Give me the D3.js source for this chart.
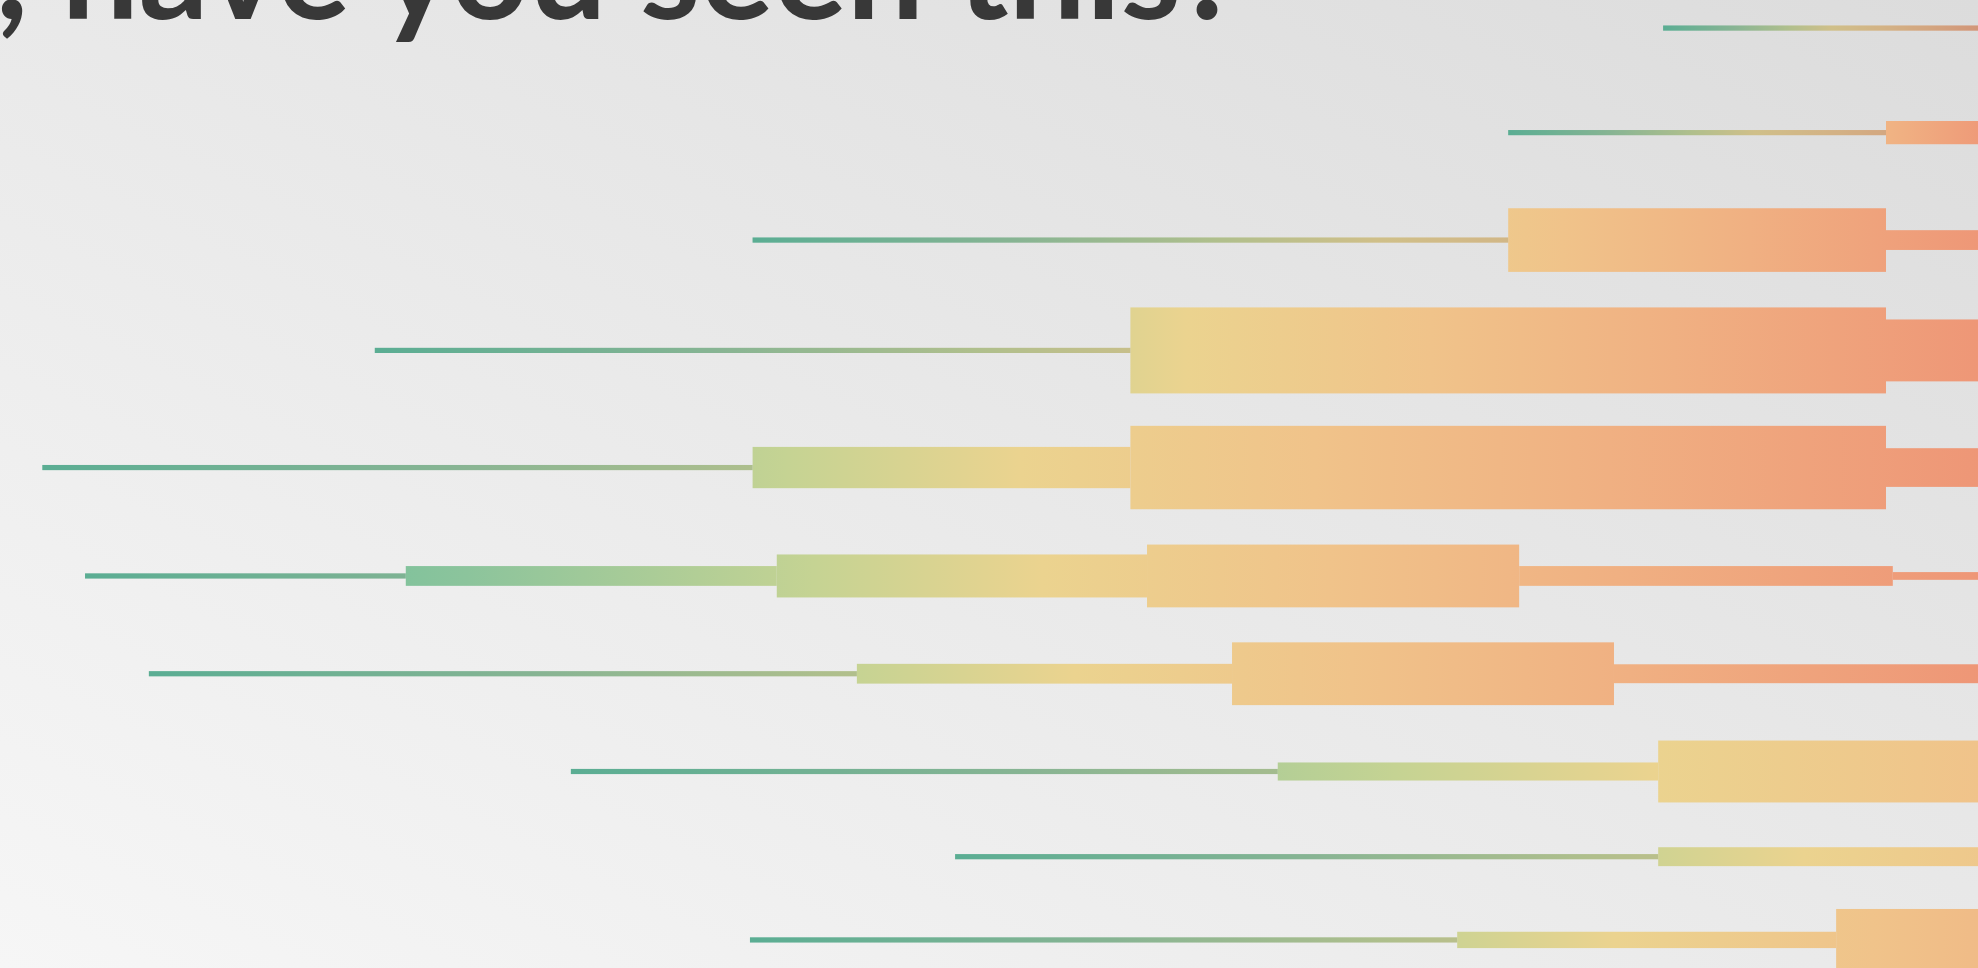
<!DOCTYPE html>
<html>
<head>
<meta charset="utf-8">
<script src="https://cdn.jsdelivr.net/npm/d3@7"></script>
<style>
  html, body { margin: 0; padding: 0; overflow: hidden; background: #e8e8e8; }
</style>
</head>
<body>
<div class="chart"></div>
<script>
const width = 1978, height = 968;

const title = ", have you seen this?";

// vertical lane of each row (0 = top edge, 10 = bottom edge)
const lanes = [0.29, 1.37, 2.48, 3.62, 4.83, 5.95, 6.96, 7.97, 8.85, 9.71];

// where each step of a row starts, in periods
const rowStarts = [
  [4.41],
  [4.0, 5.0],
  [2.0, 4.0, 5.0],
  [1.0, 3.0, 5.0],
  [0.12, 2.0, 3.0, 5.0],
  [0.233, 1.082, 2.064, 3.044, 4.029, 5.018],
  [0.402, 2.276, 3.269, 4.28],
  [1.519, 3.39, 4.397],
  [2.536, 4.397],
  [1.993, 3.865, 4.868]
];

// thickness of each step (0-100)
const rowValues = [
  [6],
  [6, 27],
  [6, 74, 23],
  [6, 100, 72],
  [6, 48, 97, 45],
  [6, 23, 50, 73, 23, 9],
  [6, 23, 73, 22],
  [6, 21, 72],
  [6, 22],
  [6, 19, 72]
];

// where each row ends (most run past the right edge)
const rowEnds = [5.3, 5.3, 5.3, 5.3, 5.3, 5.3, 5.3, 7.26, 7.03, 6.57];

const rampColors = ["#56bc9b", "#8cc49c", "#c5d393", "#ebd38f", "#f0c38a", "#f0b082", "#ee9576"];
const rampStops = [0, 0.2, 0.38, 0.5, 0.65, 0.8, 1];

let x = d3.scaleLinear().domain([0, 5]).range([-3, 1886]);
let y = d3.scaleLinear().domain([0, 10]).range([0, height]);
let t = d3.scaleLinear().domain([0, 100]).range([0, 86]);

let svg = d3.select(".chart").append("svg")
    .attr("width", width)
    .attr("height", height)
    .style("display", "block");

let defs = svg.append("defs");

let bg = defs.append("linearGradient")
    .attr("id", "bg")
    .attr("x1", 0).attr("y1", 1)
    .attr("x2", 1).attr("y2", 0);
bg.append("stop").attr("offset", 0).attr("stop-color", "#f6f6f6");
bg.append("stop").attr("offset", 0.5).attr("stop-color", "#e9e9e9");
bg.append("stop").attr("offset", 1).attr("stop-color", "#dcdcdc");

svg.append("rect")
    .attr("width", width)
    .attr("height", height)
    .attr("fill", "url(#bg)");

rowStarts.forEach((starts, i) => {
  let g = defs.append("linearGradient")
      .attr("id", "row" + i)
      .attr("gradientUnits", "userSpaceOnUse")
      .attr("x1", x(starts[0])).attr("y1", 0)
      .attr("x2", x(rowEnds[i])).attr("y2", 0);
  rampStops.forEach((s, k) => {
    g.append("stop").attr("offset", s).attr("stop-color", rampColors[k]);
  });
});

let steps = rowStarts.map((d, i) => d.map((s, j) => ({
  from: s,
  to: j + 1 < d.length ? d[j + 1] : rowEnds[i],
  value: rowValues[i][j],
  lane: lanes[i]
})));

let rows = svg.selectAll(".row")
  .data(steps)
  .enter().append("g")
    .attr("class", "row")
    .attr("fill", (d, i) => "url(#row" + i + ")");

rows.selectAll("rect")
  .data((d) => d)
  .enter().append("rect")
    .attr("x", (d) => x(d.from))
    .attr("width", (d) => x(d.to) - x(d.from))
    .attr("y", (d) => y(d.lane) - t(d.value) / 2)
    .attr("height", (d) => t(d.value));

// the hairline lead-ins read a little greyer than the wide steps
rows.selectAll(".lead")
  .data((d) => d.filter((s) => s.value <= 6))
  .enter().append("rect")
    .attr("class", "lead")
    .attr("x", (d) => x(d.from))
    .attr("width", (d) => x(d.to) - x(d.from))
    .attr("y", (d) => y(d.lane) - t(d.value) / 2)
    .attr("height", (d) => t(d.value))
    .attr("fill", "#6f7c76")
    .attr("opacity", 0.22);

let label = svg.append("text")
    .attr("x", -4)
    .attr("y", 19)
    .attr("font-family", "Lato, 'Open Sans', sans-serif")
    .attr("font-weight", 700)
    .attr("font-size", 100)
    .attr("fill", "#383838")
    .text(title);

// fit the title to the width it takes in the picture
let len = label.node().getComputedTextLength();
label.attr("font-size", 100 * 1246 / len);
</script>
</body>
</html>
